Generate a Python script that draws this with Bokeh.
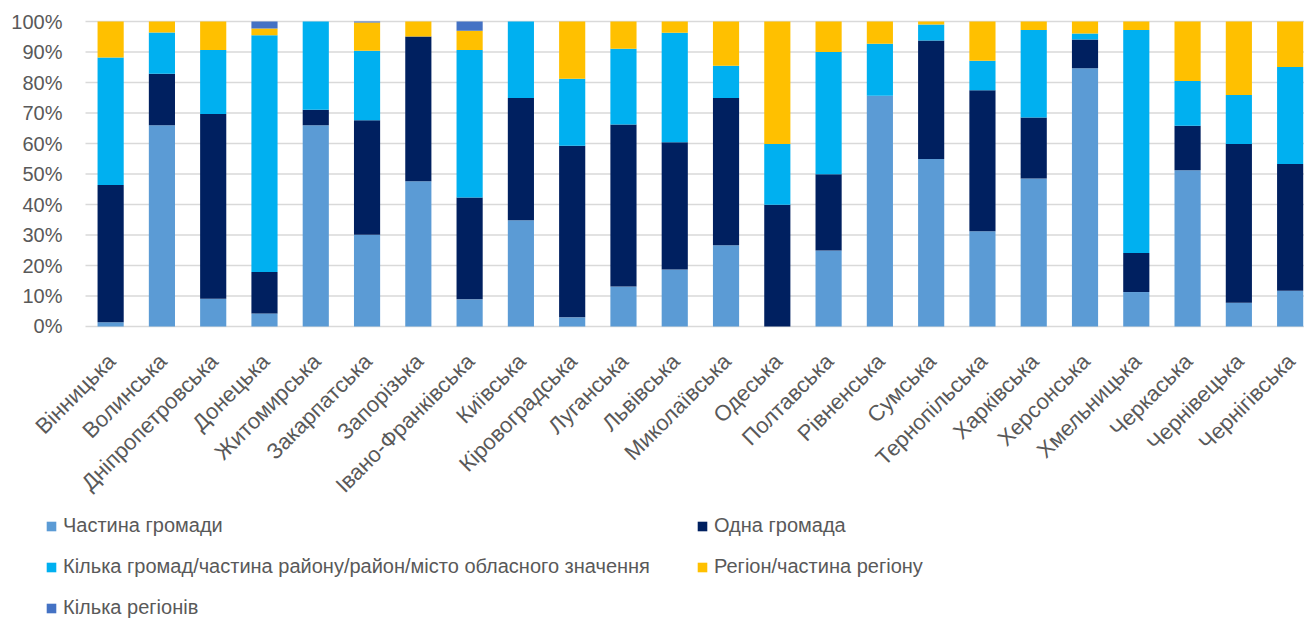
from bokeh.plotting import figure
from bokeh.models import Range1d, Legend, LegendItem, ColumnDataSource
from bokeh.core.properties import value
from bokeh.embed import file_html
from bokeh.resources import INLINE

regions = ["Вінницька", "Волинська", "Дніпропетровська", "Донецька", "Житомирська",
           "Закарпатська", "Запорізька", "Івано-Франківська", "Київська", "Кіровоградська",
           "Луганська", "Львівська", "Миколаївська", "Одеська", "Полтавська", "Рівненська",
           "Сумська", "Тернопільська", "Харківська", "Херсонська", "Хмельницька",
           "Черкаська", "Чернівецька", "Чернігівська"]

part_community = [1.4, 66.0, 9.1, 4.3, 66.0, 30.1, 47.6, 8.9, 34.8, 3.0, 13.1, 18.7,
                  26.6, 0.0, 24.9, 75.7, 54.9, 31.2, 48.5, 84.7, 11.3, 51.2, 7.8, 11.7]
one_community = [45.0, 16.9, 60.6, 13.6, 5.1, 37.5, 47.5, 33.4, 40.1, 56.3, 53.1, 41.7,
                 48.3, 39.9, 25.0, 0.0, 38.9, 46.3, 20.0, 9.4, 12.8, 14.6, 52.0, 41.6]
several = [41.8, 13.5, 21.0, 77.6, 28.9, 22.8, 0.0, 48.4, 25.1, 21.9, 24.9, 35.9,
           10.6, 19.9, 40.1, 17.0, 5.2, 9.6, 28.7, 2.0, 73.1, 14.7, 16.1, 31.8]
region_part = [11.8, 3.6, 9.3, 2.2, 0.0, 9.3, 4.9, 6.3, 0.0, 18.8, 8.9, 3.7,
               14.5, 40.2, 10.0, 7.3, 1.0, 12.9, 2.8, 3.9, 2.8, 19.5, 24.1, 14.9]
several_regions = [0.0, 0.0, 0.0, 2.3, 0.0, 0.3, 0.0, 3.0, 0.0, 0.0, 0.0, 0.0,
                   0.0, 0.0, 0.0, 0.0, 0.0, 0.0, 0.0, 0.0, 0.0, 0.0, 0.0, 0.0]

series_names = ["Частина громади", "Одна громада",
                "Кілька громад/частина району/район/місто обласного значення",
                "Регіон/частина регіону", "Кілька регіонів"]
series_keys = ["part", "one", "several", "region", "multi"]
colors = ["#5B9BD5", "#002060", "#00B0F0", "#FFC000", "#4472C4"]
y_ticks = [0, 10, 20, 30, 40, 50, 60, 70, 80, 90, 100]
y_tick_labels = ["0%", "10%", "20%", "30%", "40%", "50%", "60%", "70%", "80%", "90%", "100%"]

X_START, X_END = -0.49, 23.28   # category band limits of the plotting area
xs = list(range(len(regions)))
src = ColumnDataSource(dict(x=xs, part=part_community, one=one_community,
                            several=several, region=region_part, multi=several_regions))
label_src = ColumnDataSource(dict(x=xs, y=[0] * len(regions), name=regions))
grid_src = ColumnDataSource(dict(x0=[X_START] * len(y_ticks), x1=[X_END] * len(y_ticks),
                                 y=y_ticks, label=y_tick_labels))

TXT = "#595959"
GRID = "#D9D9D9"
FONT = "Liberation Sans"

# One frame over the whole figure, so that the slanted category labels and the
# legend (which Bokeh clips to the frame) can sit where the reference has them.
p = figure(width=1304, height=619, output_backend="svg", toolbar_location=None,
           x_range=Range1d(-2.1476, 23.28), y_range=Range1d(-96.07, 106.89),
           min_border_left=0, min_border_top=0, min_border_right=0,
           min_border_bottom=0)
p.outline_line_color = None
p.background_fill_color = "white"
p.axis.visible = False
p.grid.visible = False

# horizontal gridlines and their percentage labels
p.segment(x0="x0", x1="x1", y0="y", y1="y", source=grid_src,
          line_color=GRID, line_width=1.5)
p.text(x="x0", y="y", text="label", source=grid_src, x_offset=-23,
       text_align="right", text_baseline="middle",
       text_font=value(FONT), text_font_size="20px", text_color=TXT)

renderers = p.vbar_stack(series_keys, x="x", width=0.51, source=src,
                         fill_color=colors, line_color=None)

# slanted category labels
p.text(x="x", y="y", text="name", source=label_src, angle=0.7854,
       text_align="right", text_baseline="middle", y_offset=31, x_offset=1,
       text_font=value(FONT), text_font_size="22px", text_color=TXT)

items = [LegendItem(label=n, renderers=[r]) for n, r in zip(series_names, renderers)]
legend = Legend(items=items, location=(45, 0), orientation="horizontal", ncols=2,
                glyph_width=12, glyph_height=12, label_standoff=6,
                label_text_font=FONT, label_text_font_size="20px",
                label_text_color=TXT, label_height=20, label_width=615,
                spacing=18, padding=0, margin=0, border_line_color=None,
                background_fill_alpha=0)
p.add_layout(legend, "center")

open("out.html", "w").write(file_html(p, INLINE))
